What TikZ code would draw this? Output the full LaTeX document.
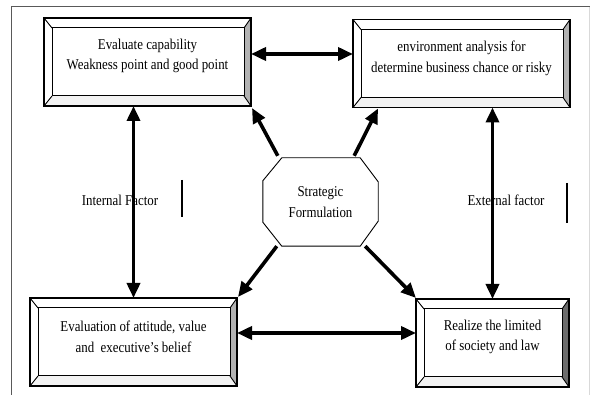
\documentclass[tikz,border=0pt]{standalone}
\usepackage{fontspec}
\setmainfont{Liberation Serif}[FakeStretch=0.86]
\usetikzlibrary{arrows.meta,calc}
\newcommand\bevelbox[2]{%
  \coordinate (#1-inw) at ($(#1.north west)+(8,10)$);
  \coordinate (#1-ise) at ($(#1.south east)+(-7,-10)$);
  \coordinate (#1-ine) at (#1-ise |- #1-inw);
  \coordinate (#1-isw) at (#1-inw |- #1-ise);
  \fill[#2] (#1.north east) -- (#1.south east) -- (#1-ise) -- (#1-ine) -- cycle;
  \fill[gray!10] (#1.south west) -- (#1.south east) -- (#1-ise) -- (#1-isw) -- cycle;
  \draw[line width=1.3pt] (#1.north west) rectangle (#1.south east);
  \draw[line width=1pt] (#1-inw) rectangle (#1-ise);
  \draw[line width=0.9pt] (#1.north west) -- (#1-inw) (#1.north east) -- (#1-ine)
    (#1.south west) -- (#1-isw) (#1.south east) -- (#1-ise);
}
\begin{document}
\begin{tikzpicture}[x=1pt,y=-1pt,
  outerbox/.style={draw=none,minimum width=#1,minimum height=88,inner sep=0pt,outer sep=0pt},
  boxtext/.style={align=center,font=\fontsize{15}{20.5}\selectfont,inner sep=0pt},
  labeltext/.style={font=\fontsize{15}{17}\selectfont,inner sep=0pt},
  bigarrow/.style={line width=3.6pt,-{Triangle[width=13pt,length=15pt]}},
  dblarrow/.style={line width=3.6pt,{Triangle[width=13pt,length=15pt]}-{Triangle[width=13pt,length=15pt]}},
  ]
\useasboundingbox (0,0) rectangle (590,395);
% frame
\draw[line width=1pt,gray!70!black] (11.5,395) -- (11.5,7) -- (590,7);
\draw[line width=0.6pt,gray!30] (589,7) -- (589,395);
% boxes
\node[outerbox=207] (b1) at (147.5,62) {};
\node[outerbox=217] (b2) at (461.5,63.5) {};
\node[outerbox=207] (b3) at (133.5,342) {};
\node[outerbox=153] (b4) at (492.5,343) {};
\bevelbox{b1}{gray!60}
\bevelbox{b2}{gray!60}
\bevelbox{b3}{gray!60}
\bevelbox{b4}{gray!85!black}
\node[boxtext] (t1) at ($(b1)+(0,-6)$) {Evaluate capability\\Weakness point and good point};
\node[boxtext] (t2) at ($(b2)+(0,-5)$) {environment analysis for\\determine business chance or risky};
\node[boxtext] (t3) at ($(b3)+(0,-5)$) {Evaluation of attitude, value\\and\ \ executive’s belief};
\node[boxtext] (t4) at ($(b4)+(0,-6)$) {Realize the limited\\of society and law};
% octagon
\node[draw=none,minimum width=115,minimum height=88,inner sep=0pt,align=center,
  font=\fontsize{15}{20.5}\selectfont] (sf) at (320.5,202) {Strategic\\Formulation};
\draw[line width=0.9pt] ($(sf.north west)+(19,0)$) -- ($(sf.north east)+(-18,0)$)
  -- ($(sf.north east)+(0,24)$) -- ($(sf.south east)+(0,-25)$)
  -- ($(sf.south east)+(-18,0)$) -- ($(sf.south west)+(19,0)$)
  -- ($(sf.south west)+(0,-24)$) -- ($(sf.north west)+(0,23)$) -- cycle;
% double arrows
\draw[dblarrow] (b1.east |- 0,54) -- (b2.west |- 0,54);
\draw[dblarrow] (b3.east |- 0,333) -- (b4.west |- 0,333);
\draw[dblarrow] (b1.south -| b3.north) -- (b3.north);
\draw[dblarrow] (b2.south -| b4.north) -- (b4.north);
% diagonal arrows
\draw[bigarrow] ($(sf.north west)+(15,-2)$) -- ($(b1.south east)+(1,2)$);
\draw[bigarrow] ($(sf.north east)+(-24,-2)$) -- ($(b2.south west)+(25,1)$);
\draw[bigarrow] ($(sf.south west)+(14,0)$) -- ($(b3.north east)+(1,-1)$);
\draw[bigarrow] ($(sf.south east)+(-13,0)$) -- ($(b4.north west)+(0,-1)$);
% labels
\node[labeltext] (lin) at (120,200) {Internal Factor};
\node[labeltext] (lex) at (506,200) {External factor};
\draw[line width=2pt] (182,180) -- (182,217);
\draw[line width=2pt] (567,183) -- (567,223);
\end{tikzpicture}
\end{document}
